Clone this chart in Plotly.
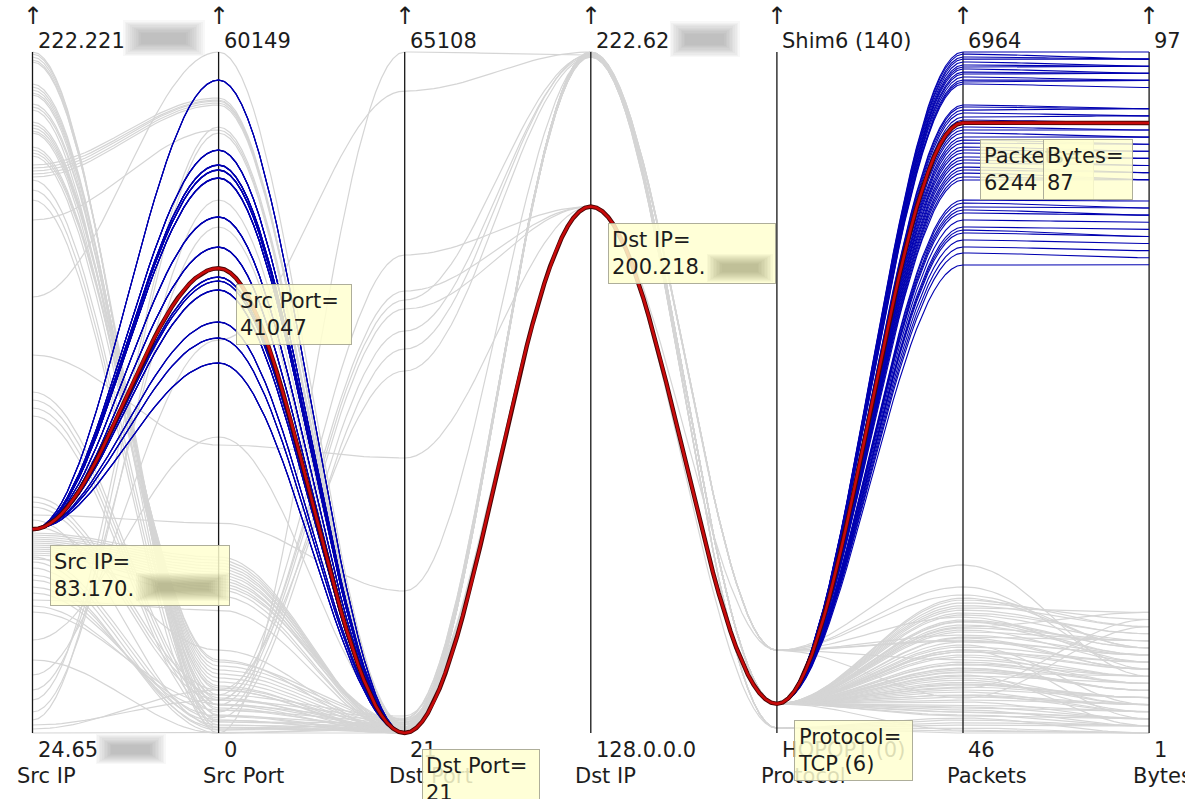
import math
import plotly.graph_objects as go

FONT = "DejaVu Sans"
INK = "#1c1c1c"

# ---------------------------------------------------------------- axes
dimensions = ["Src IP", "Src Port", "Dst Port", "Dst IP", "Protocol", "Packets", "Bytes"]
top_ticks = ["222.221", "60149", "65108", "222.62", "Shim6 (140)", "6964", "97"]
bottom_ticks = ["24.65", "0", "21", "128.0.0.0", "HOPOPT (0)", "46", "1"]
axis_low = ["24.65", 0, 21, "128.0", 0, 46, 1]
axis_high = ["222.221", 60149, 65108, "222.62", 140, 6964, 97]
protocol_names = {0: "HOPOPT (0)", 1: "ICMP (1)", 6: "TCP (6)", 17: "UDP (17)", 140: "Shim6 (140)"}

# ---------------------------------------------------------------- background flows
bg_src_ip = ["222.221", "222.70", "221.102", "220.135", "213.134", "212.167", "211.199", "210.231",
             "207.178", "206.210", "202.114", "201.146", "200.178", "199.210", "195.40", "194.72",
             "193.104", "173.222", "151.106", "189.232", "189.8", "188.40", "187.72", "186.104",
             "134.126", "123.180", "121.96", "119.10", "116.180", "93.21", "91.159", "90.42",
             "87.213", "86.95", "82.149", "81.107", "80.63", "79.21", "77.234", "76.192",
             "75.149", "74.32", "72.95", "70.85", "68.224", "66.213", "65.22", "63.11",
             "61.75", "59.139", "51.96", "45.139", "41.44", "36.203", "33.224", "30.96",
             "28.11", "26.150", "25.108", "24.65",
             "219.243", "210.82", "205.241", "199.61", "192.136", "185.136", "182.159", "179.179",
             "82.1", "80.213", "79.170", "78.128", "77.85", "76.43", "75.1", "84.85"]
bg_src_port = [0, 442, 972, 1502, 2031, 2473, 2915, 3356,
               3798, 4151, 4505, 4858, 5211, 5564, 5918, 6271,
               6448, 53260, 60149, 56086, 55910, 55821, 55645, 55468,
               25438, 2915, 2473, 1855, 1325, 3798, 3356, 2915,
               18548, 530, 15545, 15015, 14485, 13955, 13425, 12895,
               1148, 707, 265, 0, 442, 972, 1502, 10864,
               2031, 2561, 26144, 0, 34712, 44692, 53525, 47077,
               52995, 2915, 3798, 0,
               2473, 1590, 707, 3091, 3975, 2208, 1148, 265,
               15280, 14750, 14220, 13690, 13160, 12630, 12100, 7331]
bg_dst_port = [21, 311, 587, 800, 1080, 1263, 1433, 1645,
               21, 143, 443, 587, 800, 993, 1194, 1352,
               80, 21, 311, 21, 143, 443, 587, 800,
               26304, 41405, 40545, 38443, 36722, 34620, 45706, 42266,
               13593, 21, 21, 143, 443, 587, 800, 993,
               21, 143, 443, 587, 800, 993, 21, 143,
               443, 587, 1263, 65108, 61381, 21, 443, 800,
               21, 587, 143, 443,
               21, 80, 443, 21, 587, 143, 21, 993,
               21, 21, 143, 21, 443, 21, 80, 21]
bg_dst_ip = ["222.62", "221.212", "221.248", "222.27", "200.218", "200.218", "221.177", "200.218",
             "200.218", "222.62", "200.218", "200.218", "221.248", "200.218", "200.218", "221.141",
             "200.218", "200.218", "222.62", "221.212", "222.27", "200.218", "221.177", "200.218",
             "200.218", "221.212", "200.218", "221.177", "221.248", "221.141", "200.218", "200.218",
             "221.212", "200.218", "200.218", "200.218", "222.62", "200.218", "200.218", "222.27",
             "200.218", "200.218", "221.177", "200.218", "200.218", "221.212", "200.218", "200.218",
             "221.248", "200.218", "200.218", "221.212", "222.62", "200.218", "200.218", "221.177",
             "200.218", "221.248", "200.218", "222.27",
             "200.218", "221.212", "200.218", "222.27", "200.218", "200.218", "221.177", "200.218",
             "200.218", "222.62", "200.218", "200.218", "221.248", "200.218", "200.218", "221.212"]
bg_protocol = [6, 6, 17, 1, 6, 6, 6, 6,
               6, 17, 6, 6, 1, 17, 6, 6,
               6, 6, 17, 6, 6, 6, 1, 6,
               6, 6, 6, 17, 6, 6, 6, 6,
               6, 6, 6, 6, 6, 6, 1, 1,
               6, 6, 17, 6, 6, 6, 6, 6,
               6, 6, 6, 17, 6, 6, 6, 6,
               6, 1, 6, 6,
               6, 6, 6, 17, 6, 6, 1, 6,
               6, 6, 6, 6, 17, 6, 6, 6]
bg_packets = [76, 259, 788, 97, 381, 483, 584, 686,
              838, 991, 1143, 1194, 127, 1224, 940, 889,
              635, 1397, 1753, 330, 432, 534, 178, 767,
              1072, 1367, 1295, 1448, 970, 1123, 1245, 1417,
              869, 706, 361, 462, 605, 280, 198, 46,
              818, 920, 1041, 1113, 747, 666, 544, 412,
              310, 229, 1265, 402, 503, 1011, 1092, 1174,
              1316, 66, 625, 219,
              512, 1020, 740, 1530, 300, 870, 150, 660,
              700, 1180, 560, 260, 980, 430, 890, 1340]
bg_bytes = [1, 3, 9, 1, 5, 6, 4, 7,
            9, 10, 12, 13, 2, 11, 5, 3,
            2, 16, 9, 4, 5, 6, 2, 8,
            14, 17, 15, 13, 12, 18, 14, 13,
            10, 7, 3, 4, 5, 2, 1, 1,
            8, 11, 12, 14, 9, 7, 6, 5,
            3, 2, 15, 16, 17, 10, 11, 12,
            18, 1, 8, 3,
            6, 14, 8, 10, 4, 11, 2, 9,
            7, 13, 5, 3, 12, 4, 10, 16]

# ---------------------------------------------------------------- selected flows (83.170 -> 200.218:21/TCP)
sel_src_ip = "83.170"
sel_dst_port = 21
sel_dst_ip = "200.218"
sel_protocol = 6
sel_src_port = [57676, 51493, 50169, 49727, 49020, 45576, 42926, 40276, 39923, 39128, 36302, 34888, 32680,
                57691, 51470, 50182, 49740, 49005, 45590, 42911, 40288, 39910, 39141, 36290, 34901, 32668,
                57660, 51508, 50155, 49713, 49034, 45562, 42940, 40264, 39935, 39115, 36315, 34874, 32693,
                51481, 50196, 49702, 49047, 45603, 42899, 40251, 39152, 50143, 49755, 48992]
sel_packets = [6964, 6943, 6913, 6892, 6862, 6832, 6811, 6791, 6760, 6740, 6710, 6679, 6659, 6639,
               6425, 6405, 6374, 6344, 6303, 6273,
               6202, 6171, 6141, 6100, 6070, 6039, 5999, 5968, 5938, 5897, 5867, 5836, 5795, 5765,
               5734, 5694, 5663,
               5460, 5430, 5389, 5359, 5328, 5257, 5186, 5155, 5125, 5054, 4983, 4922, 4800]
sel_bytes = [97, 96, 96, 96, 95, 95, 95, 94, 94, 94, 93, 93, 93, 92,
             89, 89, 89, 88, 88, 87,
             86, 86, 85, 85, 84, 84, 83, 83, 82, 82, 81, 81, 80, 80,
             79, 79, 79,
             76, 75, 75, 74, 74, 73, 72, 71, 71, 70, 69, 68, 67]

# ---------------------------------------------------------------- highlighted flow
hl_src_ip = "83.170"
hl_src_port = 41047
hl_dst_port = 21
hl_dst_ip = "200.218"
hl_protocol = 6
hl_packets = 6244
hl_bytes = 87


def numeric(v):
    if isinstance(v, str):
        a, b = v.split(".")[:2]
        return int(a) * 256 + int(b)
    return float(v)


def normalise(d, v):
    lo, hi = numeric(axis_low[d]), numeric(axis_high[d])
    return (numeric(v) - lo) / (hi - lo)


def curve(values, steps=32):
    """Cosine-eased path through the axes (flat tangent at every axis)."""
    norms = [normalise(d, v) for d, v in enumerate(values)]
    xs, ys = [], []
    n = len(norms)
    for i in range(n - 1):
        last = i == n - 2
        for k in range(steps + (1 if last else 0)):
            t = k / steps
            s = (1 - math.cos(math.pi * t)) / 2
            xs.append(i + t)
            ys.append(norms[i] + (norms[i + 1] - norms[i]) * s)
    return xs, ys


def bundle(rows):
    X, Y = [], []
    for r in rows:
        xs, ys = curve(r)
        X += xs + [None]
        Y += ys + [None]
    return X, Y


bg_rows = list(zip(bg_src_ip, bg_src_port, bg_dst_port, bg_dst_ip, bg_protocol, bg_packets, bg_bytes))
sel_rows = [(sel_src_ip, sp, sel_dst_port, sel_dst_ip, sel_protocol, pk, by)
            for sp, pk, by in zip(sel_src_port, sel_packets, sel_bytes)]
hl_row = (hl_src_ip, hl_src_port, hl_dst_port, hl_dst_ip, hl_protocol, hl_packets, hl_bytes)

fig = go.Figure()

gx, gy = bundle(bg_rows)
fig.add_trace(go.Scatter(x=gx, y=gy, mode="lines", line=dict(color="#d5d5d5", width=1.2),
                         hoverinfo="skip", showlegend=False))

# axis lines
ax_x, ax_y = [], []
for i in range(len(dimensions)):
    ax_x += [i, i, None]
    ax_y += [0, 1, None]
fig.add_trace(go.Scatter(x=ax_x, y=ax_y, mode="lines", line=dict(color="#151515", width=1.3),
                         hoverinfo="skip", showlegend=False))

bx, by_ = bundle(sel_rows)
fig.add_trace(go.Scatter(x=bx, y=by_, mode="lines", line=dict(color="#0000b0", width=1.1),
                         hoverinfo="skip", showlegend=False))

rx, ry = curve(hl_row)
fig.add_trace(go.Scatter(x=rx, y=ry, mode="lines", line=dict(color="#4a0505", width=4.4),
                         hoverinfo="skip", showlegend=False))
fig.add_trace(go.Scatter(x=rx, y=ry, mode="lines", line=dict(color="#c80a0a", width=2.6),
                         hoverinfo="skip", showlegend=False))

# ---------------------------------------------------------------- text
annotations = []


def text(t, x, y, xshift, yshift, xanchor, size=21, color=INK):
    annotations.append(dict(text=t, x=x, y=y, xref="x", yref="y", xshift=xshift, yshift=yshift,
                            xanchor=xanchor, yanchor="middle", showarrow=False,
                            font=dict(family=FONT, size=size, color=color)))


def smudge(x, y, dx, dy, w, h, rgb="120,120,120"):
    """Soft blotch over redacted octets: stacked translucent boxes."""
    layers = 11
    for k in range(layers):
        fw = 1.0 - 0.045 * k
        fh = 1.0 - 0.07 * k
        annotations.append(dict(text=" ", x=x, y=y, xref="x", yref="y", xshift=dx, yshift=dy,
                                xanchor="center", yanchor="middle", showarrow=False,
                                width=w * fw, height=h * fh, bgcolor=f"rgba({rgb},0.05)",
                                borderwidth=0, borderpad=0, font=dict(size=2)))


for i, name in enumerate(dimensions):
    text("↑", i, 1, 0, 36, "center", size=24)
    text(top_ticks[i], i, 1, 3, 11, "left")
    text(bottom_ticks[i], i, 0, 3, -17, "left")
    text(name, i, 0, -18, -43, "left")

smudge(0, 1, 131, 14, 82, 36)
smudge(3, 1, 114, 13, 70, 36)
smudge(0, 0, 98, -16, 70, 30)

hl_norm = [normalise(d, v) for d, v in enumerate(hl_row)]
tip_values = [hl_src_ip + ".", str(hl_src_port), str(hl_dst_port), hl_dst_ip + ".",
              protocol_names[hl_protocol], str(hl_packets), str(hl_bytes)]
tip_widths = [172, 108, 110, 160, 111, 106, 82]
for i, name in enumerate(dimensions):
    right_side = i == len(dimensions) - 1
    annotations.append(dict(
        text=f"{name}=<br>{tip_values[i]}", x=i, y=hl_norm[i], xref="x", yref="y",
        xshift=-16 if right_side else 17, yshift=-16,
        xanchor="right" if right_side else "left", yanchor="top",
        align="left", valign="middle", width=tip_widths[i], height=53,
        bgcolor="rgba(255,255,208,0.85)", bordercolor="rgba(170,170,150,0.95)",
        borderwidth=1, borderpad=3, showarrow=False,
        font=dict(family=FONT, size=21, color=INK)))

smudge(0, hl_norm[0], 150, -58, 94, 28, "110,110,80")
smudge(3, hl_norm[3], 149, -61, 66, 28, "110,110,80")

fig.update_layout(
    width=1185, height=799,
    margin=dict(l=0, r=0, t=0, b=0),
    paper_bgcolor="white", plot_bgcolor="white",
    xaxis=dict(range=[-32.5 / 186.1, (1185 - 32.5) / 186.1], visible=False, fixedrange=True),
    yaxis=dict(range=[-66 / 681, 1 + 52 / 681], visible=False, fixedrange=True),
    annotations=annotations,
    hovermode=False,
    showlegend=False,
)

fig.write_html("out.html", config={"displayModeBar": False})
